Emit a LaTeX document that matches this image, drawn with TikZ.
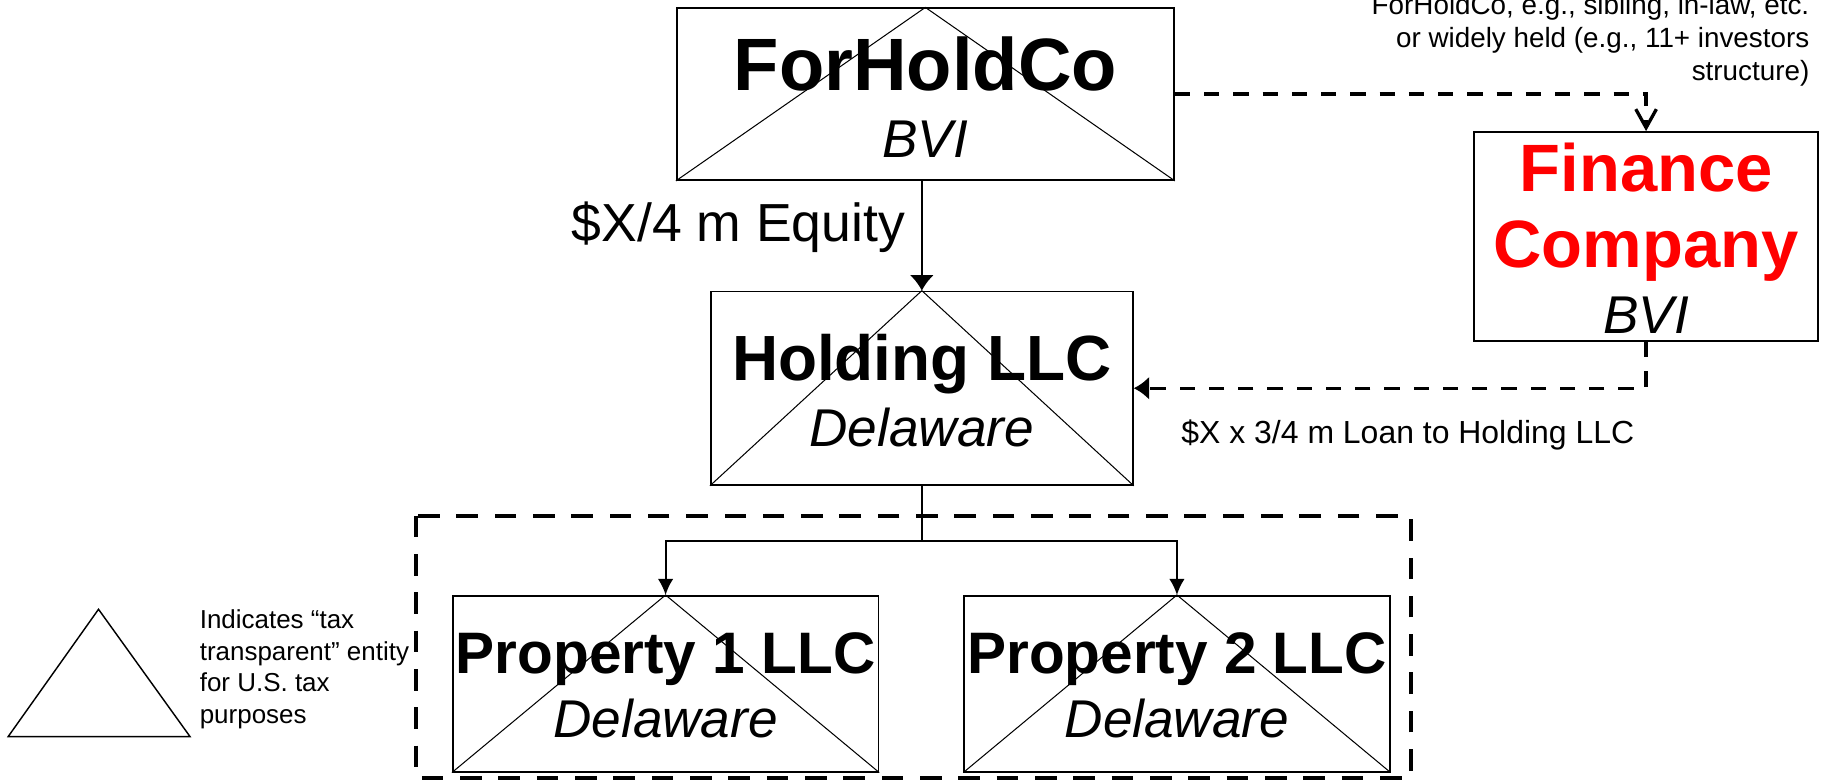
\documentclass[tikz,border=0pt]{standalone}
\usepackage{fontspec}
\setmainfont{Liberation Sans}
\usetikzlibrary{arrows.meta}

% --- Styles ---
\tikzset{
  entity/.style={draw, line width=0.8pt, inner sep=0pt},
  passthrough/.style={line width=0.5pt},
  entname/.style={anchor=base, font=\fontsize{#1}{#1}\selectfont\bfseries},
  seat/.style={anchor=base, font=\fontsize{25.8}{30}\selectfont\itshape},
  owns/.style={line width=0.9pt, -{Latex[length=7.8pt, width=7.5pt]}},
  funds/.style={line width=0.9pt, -{Latex[length=7.5pt, width=11.5pt]}},
  related/.style={line width=1.6pt, dash pattern=on 7.4pt off 6.8pt},
  groupframe/.style={line width=1.95pt, dash pattern=on 10.5pt off 8.1pt},
}

\begin{document}
\begin{tikzpicture}[x=0.02cm, y=-0.02cm] % 1 unit = one pixel of the layout

    \useasboundingbox (0,0) rectangle (1568,666);

    % --- Entities ---
    \node[entity, minimum width=8.48cm, minimum height=2.93cm] (ForHoldCo) at (789,80.25) {};
    \node[entity, minimum width=7.2cm, minimum height=3.3cm] (Holding) at (786,331) {};
    \node[entity, minimum width=7.26cm, minimum height=3cm] (Prop1) at (567.5,583) {};
    \node[entity, minimum width=7.26cm, minimum height=3cm] (Prop2) at (1003.5,583) {};
    \node[entity, minimum width=5.86cm, minimum height=3.57cm] (Finance) at (1403.5,201.7) {};

    % Triangles marking the tax transparent entities
    \draw[passthrough] (ForHoldCo.south west) -- (ForHoldCo.north) -- (ForHoldCo.south east);
    \draw[passthrough] (Holding.south west) -- (Holding.north) -- (Holding.south east);
    \draw[passthrough] (Prop1.south west) -- (Prop1.north) -- (Prop1.south east);
    \draw[passthrough] (Prop2.south west) -- (Prop2.north) -- (Prop2.south east);

    % --- Names and seats ---
    \node[entname=36] (ForHoldCoName) at (789,77.5) {ForHoldCo};
    \node[seat] (ForHoldCoSeat) at (789,134) {BVI};
    \node[entname=31] (HoldingName) at (786,324) {Holding LLC};
    \node[seat] (HoldingSeat) at (786,381) {Delaware};
    \node[entname=28.4] (Prop1Name) at (567.5,574) {Property 1 LLC};
    \node[seat] (Prop1Seat) at (567.5,629) {Delaware};
    \node[entname=28.4] (Prop2Name) at (1003.5,574) {Property 2 LLC};
    \node[seat] (Prop2Seat) at (1003.5,629) {Delaware};
    \node[entname=32.5, text=red] (FinanceName) at (1403.5,163.5) {Finance};
    \node[entname=32.5, text=red] (FinanceName2) at (1403.5,228.5) {Company};
    \node[seat] (FinanceSeat) at (1403.5,284) {BVI};

    % --- Ownership and funding ---
    \draw[funds] (Holding.north |- ForHoldCo.south) -- (Holding.north);
    \coordinate (Branch) at (786,461);
    \draw[line width=0.9pt] (Holding.south) -- (Branch);
    \draw[owns] (Branch) -| (Prop1.north);
    \draw[owns] (Branch) -| (Prop2.north);

    \draw[related, -{Straight Barb[length=9pt, width=10pt]}] (ForHoldCo.east) -| (Finance.north);
    \draw[related, -{Latex[length=7.5pt, width=11.5pt]}] (Finance.south) |- (Holding.east);

    % Dashed group round the property companies
    \draw[groupframe] (354.7,439.7) rectangle (1203,663.5);

    % --- Labels ---
    \node[anchor=base west, inner sep=0pt, font=\fontsize{26}{30}\selectfont] (EquityLabel) at (487,206) {\$X/4 m Equity};
    \node[anchor=base west, inner sep=0pt, font=\fontsize{15.5}{18}\selectfont] (LoanLabel) at (1007,378) {\$X x 3/4 m Loan to Holding LLC};
    \node[anchor=north east, align=right, inner sep=0pt, font=\fontsize{13.5}{16}\selectfont] (Note) at (1543,-5.3)
      {ForHoldCo, e.g., sibling, in-law, etc.\\or widely held (e.g., 11+ investors\\structure)};

    % --- Legend ---
    \draw[line width=0.7pt] (7,628) -- (84,519.5) -- (162,628) -- cycle;
    \node[anchor=north west, align=left, inner sep=0pt, font=\fontsize{12.6}{15.4}\selectfont] (LegendText) at (170,519.3)
      {Indicates “tax\\transparent” entity\\for U.S. tax\\purposes};

\end{tikzpicture}
\end{document}
